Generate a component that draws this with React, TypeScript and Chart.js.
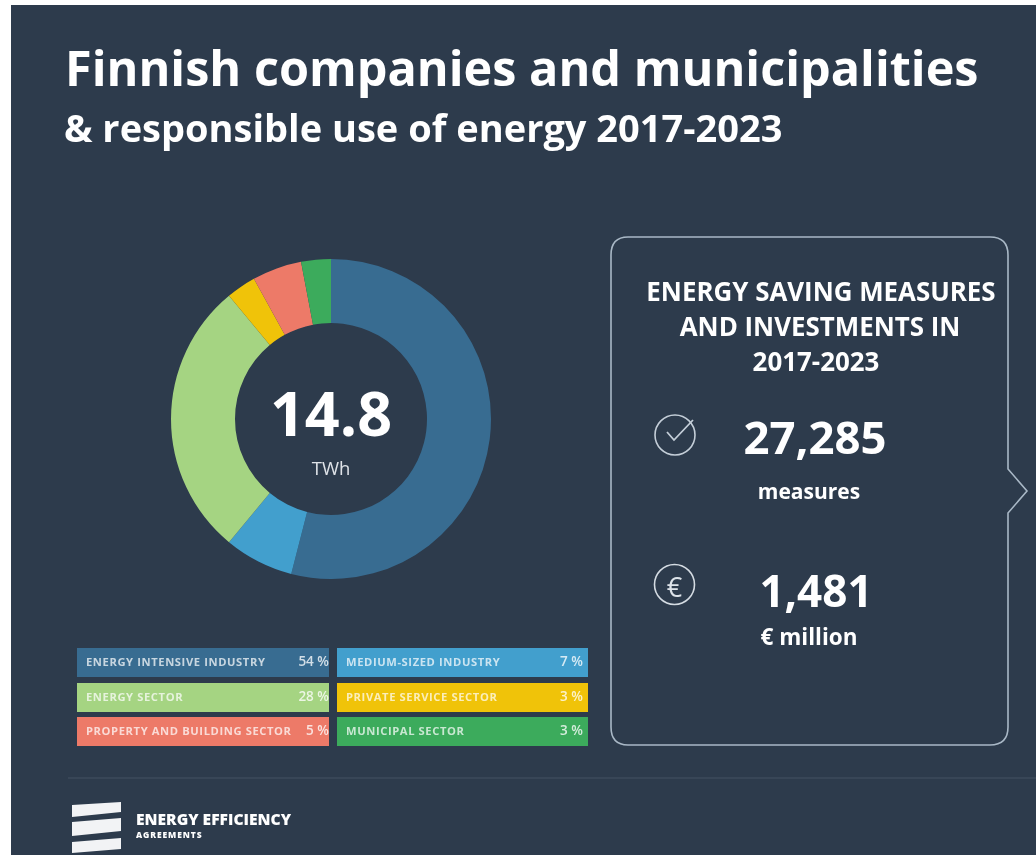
import React, { useEffect, useRef } from "react";
import { Chart, registerables } from "chart.js";

Chart.register(...registerables);

const sectors = [
  "Energy intensive industry",
  "Medium-sized industry",
  "Energy sector",
  "Private service sector",
  "Property and building sector",
  "Municipal sector",
];
const shares = [54, 7, 28, 3, 5, 3];
const sliceColors = ["#386c91", "#429fcd", "#a5d482", "#f0c309", "#ed7a68", "#3cab5c"];
const legendOrder = [0, 1, 2, 3, 4, 5];
const titleLine1 = "Finnish companies and municipalities";
const titleLine2 = "& responsible use of energy 2017-2023";
const centerValue = "14.8";
const centerUnit = "TWh";
const boxHeading = ["ENERGY SAVING MEASURES", "AND INVESTMENTS IN", "2017-2023"];
const headingCenters = [821, 820, 816];

const FONT = "'Open Sans', sans-serif";
const abs = (left: number, top: number, extra: React.CSSProperties = {}): React.CSSProperties => ({
  position: "absolute",
  left,
  top,
  whiteSpace: "nowrap",
  fontFamily: FONT,
  color: "#fff",
  ...extra,
});

function Txt({ cx, cy, size, weight = 700, color = "#fff", children, left, blur = 0.6, spacing = 0 }: any) {
  const st: React.CSSProperties = {
    position: "absolute",
    top: cy,
    left: left !== undefined ? left : cx,
    transform: left !== undefined ? "translateY(-50%)" : "translate(-50%,-50%)",
    fontSize: size,
    fontWeight: weight,
    color,
    fontFamily: FONT,
    whiteSpace: "nowrap",
    lineHeight: 1,
    letterSpacing: spacing,
    filter: `blur(${blur}px)`,
  };
  return <div style={st}>{children}</div>;
}

export default function App() {
  const ref = useRef<HTMLCanvasElement>(null);
  useEffect(() => {
    const chart = new Chart(ref.current!, {
      type: "doughnut",
      data: {
        labels: sectors,
        datasets: [{ data: shares, backgroundColor: sliceColors, borderWidth: 0 }],
      },
      options: {
        animation: false,
        responsive: false,
        cutout: "60%",
        layout: { padding: 0 },
        plugins: { legend: { display: false }, tooltip: { enabled: false } },
      },
    });
    return () => chart.destroy();
  }, []);

  const rows = legendOrder.map((i, n) => {
    const col = n % 2;
    const row = Math.floor(n / 2);
    const left = col === 0 ? 77 : 337;
    const top = 648 + row * 34.5;
    return (
      <div key={i} style={abs(left, top, { width: col === 0 ? 252 : 251, height: 29, background: sliceColors[i], filter: "blur(0.7px)" })}>
        <span style={{ position: "absolute", left: 9, top: 7, fontSize: 11.2, fontWeight: 700, letterSpacing: 0.6, color: "rgba(255,255,255,0.72)", lineHeight: "14px" }}>
          {sectors[i].toUpperCase()}
        </span>
        <span style={{ position: "absolute", right: col === 0 ? 0 : 5, top: 5, fontSize: 13.5, fontWeight: 600, color: "rgba(255,255,255,0.78)", lineHeight: "17px" }}>
          {shares[i]} %
        </span>
      </div>
    );
  });

  return (
    <div style={{ position: "fixed", inset: 0, background: "#fff", overflow: "hidden" }}>
      <div style={{ position: "absolute", left: 11, top: 5, right: 0, bottom: 0, background: "#2d3b4c" }} />
      <Txt left={65} cy={67} size={48.6}>{titleLine1}</Txt>
      <Txt left={64} cy={127} size={38}>{titleLine2}</Txt>

      <canvas ref={ref} width={320} height={320} style={{ position: "absolute", left: 171, top: 259, filter: "blur(0.5px)" }} />
      <Txt cx={331} cy={412} size={61}>{centerValue}</Txt>
      <Txt cx={331} cy={468} size={18.5} weight={400} color="#dfe3e8">{centerUnit}</Txt>

      {rows}

      <svg width={1036} height={855} style={{ position: "absolute", left: 0, top: 0, filter: "blur(0.5px)" }}>
        <path
          d="M 628 237 H 990 Q 1008 237 1008 255 V 469 L 1027 491 L 1008 513 V 727 Q 1008 745 990 745 H 628 Q 611 745 611 727 V 255 Q 611 237 628 237 Z"
          fill="none"
          stroke="#a9b8c6"
          strokeWidth={1.6}
        />
        <line x1={68} y1={778} x2={1036} y2={778} stroke="#445263" strokeWidth={1.2} />
        <circle cx={675} cy={435} r={20} fill="none" stroke="#c4ced8" strokeWidth={1.6} />
        <path d="M 667 432 L 674 440 L 693 420" fill="none" stroke="#c4ced8" strokeWidth={1.8} />
        <circle cx={674.5} cy={584.5} r={20} fill="none" stroke="#d4dbe2" strokeWidth={1.6} />
        <path d="M 72 805 L 121 802 V 812 L 72 817 Z M 72 822 L 121 818 V 831 L 72 836 Z M 72 842 L 121 838 V 849 L 72 853 Z" fill="#f2f3f5" />
      </svg>
      <Txt cx={674.5} cy={586} size={27} weight={400} color="#dde3e9">€</Txt>

      {boxHeading.map((t, i) => (
        <Txt key={t} cx={headingCenters[i]} cy={292 + i * 35} size={25.9}>{t}</Txt>
      ))}
      <Txt cx={815} cy={437} size={45.5}>27,285</Txt>
      <Txt cx={809} cy={491} size={21} weight={700}>measures</Txt>
      <Txt cx={816} cy={590} size={44}>1,481</Txt>
      <Txt cx={809} cy={637} size={22.5} weight={700}>€ million</Txt>

      <Txt left={136} cy={819.5} size={15.6} weight={800}>ENERGY EFFICIENCY</Txt>
      <Txt left={136} cy={834.5} size={8.5} weight={800} spacing={0.9}>AGREEMENTS</Txt>
    </div>
  );
}
